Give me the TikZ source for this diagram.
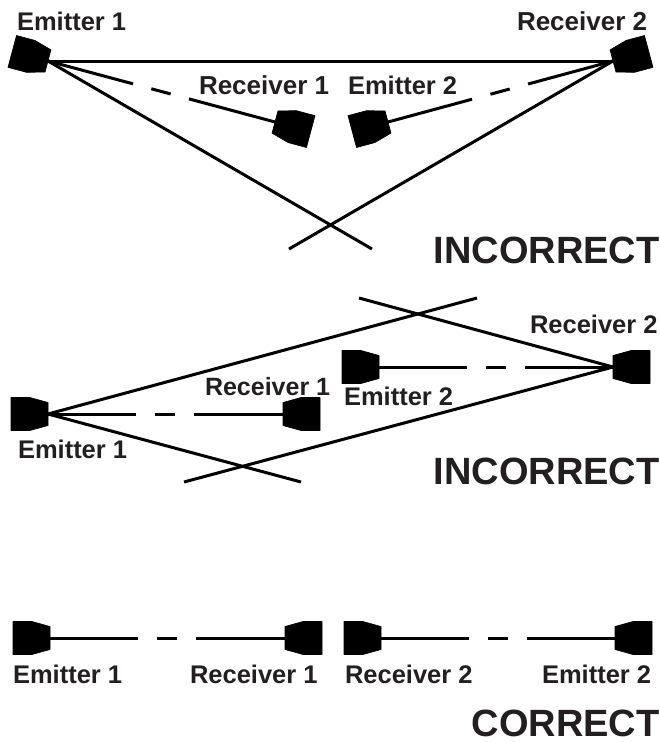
\documentclass[tikz,border=0pt]{standalone}
\usepackage{fontspec}
\setmainfont{Liberation Sans}
\definecolor{inkblack}{HTML}{000000}
\definecolor{labelink}{HTML}{231F20}
\tikzset{
  x=1pt,y=-1pt,
  sensor/.pic={
    \fill[inkblack,draw=inkblack,line width=0.6pt,line join=round]
      (0,-11.5) -- (-18,-16.5) -- (-37,-16.5) -- (-37,16.5) -- (-18,16.5) -- (0,11.5) -- cycle;
  },
  beam/.style={draw=inkblack,line width=3pt},
  broken/.style={beam,dash pattern=on 88pt off 19pt on 20pt off 19pt on 120pt off 0pt},
  lbl/.style={anchor=base west,inner sep=0pt,outer sep=0pt,text=labelink,font=\fontsize{25.5}{30}\selectfont\bfseries},
  rlbl/.style={lbl,font=\fontsize{26}{30}\selectfont\bfseries},
  verdict/.style={anchor=base east,inner sep=0pt,outer sep=0pt,text=labelink,font=\fontsize{38}{44}\selectfont\bfseries},
}
\begin{document}
\begin{tikzpicture}
\useasboundingbox (0,0) rectangle (660,742);
% ---- top arrangement
\coordinate (ea) at (48,61);
\coordinate (rb) at (613,61);
\coordinate (ra) at (275,122);
\coordinate (eb) at (388,122);
\coordinate (ea-end) at (372,249);
\coordinate (rb-end) at (289,249);
\draw[beam] (ea) -- (rb);
\draw[beam] (ea) -- (ea-end);
\draw[beam] (rb) -- (rb-end);
\draw[broken] (ea) -- (ra);
\draw[broken] (rb) -- (eb);
\pic[rotate=-15] at (ea) {sensor};
\pic[rotate=165] at (ra) {sensor};
\pic[rotate=15] at (eb) {sensor};
\pic[rotate=195] at (rb) {sensor};
\node[lbl] (t-ea) at (17,30) {Emitter 1};
\node[rlbl] (t-rb) at (517,30) {Receiver 2};
\node[rlbl] (t-ra) at (199,94) {Receiver 1};
\node[lbl] (t-eb) at (348,94) {Emitter 2};
\node[verdict] (t-v) at (659.5,263) {INCORRECT};
% ---- middle arrangement
\coordinate (mea) at (48,414);
\coordinate (mra) at (283,414);
\coordinate (meb) at (379,367);
\coordinate (mrb) at (613,367);
\coordinate (mea-up) at (477,298);
\coordinate (mea-dn) at (301,482);
\coordinate (mrb-up) at (359,298);
\coordinate (mrb-dn) at (184,482);
\draw[beam] (mea) -- (mea-up);
\draw[beam] (mea) -- (mea-dn);
\draw[beam] (mrb) -- (mrb-up);
\draw[beam] (mrb) -- (mrb-dn);
\draw[broken] (mea) -- (mra);
\draw[broken] (meb) -- (mrb);
\pic at (mea) {sensor};
\pic[rotate=180] at (mra) {sensor};
\pic at (meb) {sensor};
\pic[rotate=180] at (mrb) {sensor};
\node[lbl] (m-rb) at (530,333) {Receiver 2};
\node[lbl,font=\fontsize{25}{30}\selectfont\bfseries] (m-ra) at (205,395) {Receiver 1};
\node[lbl] (m-eb) at (344,405) {Emitter 2};
\node[lbl] (m-ea) at (18,458) {Emitter 1};
\node[verdict] (m-v) at (659.5,484) {INCORRECT};
% ---- bottom arrangement
\coordinate (bea) at (50,638);
\coordinate (bra) at (285,638);
\coordinate (brb) at (381,638);
\coordinate (beb) at (615,638);
\draw[broken] (bea) -- (bra);
\draw[broken] (brb) -- (beb);
\pic at (bea) {sensor};
\pic[rotate=180] at (bra) {sensor};
\pic at (brb) {sensor};
\pic[rotate=180] at (beb) {sensor};
\node[lbl] (b-ea) at (13,683) {Emitter 1};
\node[lbl] (b-ra) at (190,683) {Receiver 1};
\node[lbl] (b-rb) at (345,683) {Receiver 2};
\node[lbl] (b-eb) at (542,683) {Emitter 2};
\node[verdict] (b-v) at (659.5,736) {CORRECT};
\end{tikzpicture}
\end{document}
